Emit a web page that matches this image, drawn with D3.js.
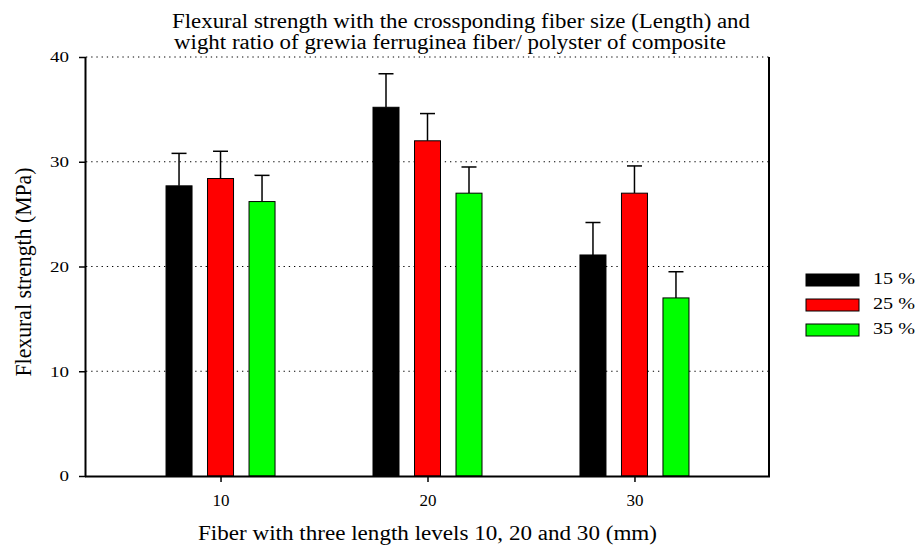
<!DOCTYPE html>
<html>
<head>
<meta charset="utf-8">
<script src="https://cdn.jsdelivr.net/npm/d3@7"></script>
<style>
  html, body { margin: 0; padding: 0; background: #fff; }
</style>
</head>
<body>
<div id="chart"></div>
<script>
// fiber length levels (mm)
const lengths = ["10", "20", "30"];
// weight ratio series
const series = ["15 %", "25 %", "35 %"];
const colors = ["#000000", "#ff0000", "#00ff00"];
// mean flexural strength (MPa) per series, per length
const meanValues = [
  [27.7, 35.2, 21.1],
  [28.4, 32.0, 27.0],
  [26.2, 27.0, 17.0]
];
// upper error (std) per series, per length
const errValues = [
  [3.1, 3.2, 3.1],
  [2.6, 2.6, 2.6],
  [2.5, 2.5, 2.5]
];
const yTicks = [0, 10, 20, 30, 40];
const titleLines = [
  "Flexural strength with the crossponding fiber size (Length) and",
  "wight ratio of grewia ferruginea fiber/ polyster of composite"
];

const serif = "'Liberation Serif', 'Times New Roman', serif";
const width = 921, height = 546;
const margin = { top: 57, right: 152, bottom: 70, left: 86 };

const svg = d3.select("#chart").append("svg")
  .attr("width", width)
  .attr("height", height);

const x = d3.scalePoint()
  .domain(lengths)
  .range([margin.left, width - margin.right])
  .padding(0.65);

const y = d3.scaleLinear()
  .domain([0, 40])
  .range([height - margin.bottom, margin.top]);

const barW = 26, barStep = 41.5;

// gridlines (dotted)
svg.append("g")
  .selectAll("line")
  .data(yTicks.filter(d => d > 0))
  .join("line")
  .attr("x1", margin.left)
  .attr("x2", width - margin.right)
  .attr("y1", d => y(d))
  .attr("y2", d => y(d))
  .attr("stroke", "#000")
  .attr("stroke-width", 1.2)
  .attr("stroke-dasharray", "1.3,3.9");

// bars + error bars
series.forEach((s, i) => {
  const off = (i - 1) * barStep;
  const g = svg.append("g");
  const rows = lengths.map((l, j) => ({ l, v: meanValues[i][j], e: errValues[i][j] }));

  g.selectAll("line.err")
    .data(rows)
    .join("line")
    .attr("class", "err")
    .attr("x1", d => x(d.l) + off)
    .attr("x2", d => x(d.l) + off)
    .attr("y1", d => y(d.v))
    .attr("y2", d => y(d.v + d.e))
    .attr("stroke", "#000")
    .attr("stroke-width", 1.5);

  g.selectAll("line.cap")
    .data(rows)
    .join("line")
    .attr("class", "cap")
    .attr("x1", d => x(d.l) + off - 7.5)
    .attr("x2", d => x(d.l) + off + 7.5)
    .attr("y1", d => y(d.v + d.e))
    .attr("y2", d => y(d.v + d.e))
    .attr("stroke", "#000")
    .attr("stroke-width", 1.5);

  g.selectAll("rect")
    .data(rows)
    .join("rect")
    .attr("x", d => x(d.l) + off - barW / 2)
    .attr("y", d => y(d.v))
    .attr("width", barW)
    .attr("height", d => y(0) - y(d.v))
    .attr("fill", colors[i])
    .attr("stroke", "#000")
    .attr("stroke-width", 1);
});

// left axis
const yAxis = svg.append("g")
  .attr("transform", `translate(${margin.left},0)`)
  .call(d3.axisLeft(y).tickValues(yTicks).tickSize(7).tickPadding(10).tickFormat(d3.format("d")));
yAxis.selectAll("text")
  .style("font-family", serif)
  .style("font-size", "15px")
  .attr("textLength", d => String(d).length * 9.5)
  .attr("lengthAdjust", "spacingAndGlyphs");
yAxis.select(".domain").attr("stroke-width", 2).attr("d", `M-0.5,${y(40)}V${y(0)}`);
yAxis.selectAll(".tick line").attr("stroke-width", 1.5);

// right axis line
svg.append("line")
  .attr("x1", width - margin.right)
  .attr("x2", width - margin.right)
  .attr("y1", y(40))
  .attr("y2", y(0))
  .attr("stroke", "#000")
  .attr("stroke-width", 2);

// bottom axis
const xAxis = svg.append("g")
  .attr("transform", `translate(0,${y(0)})`)
  .call(d3.axisBottom(x).tickSize(6).tickPadding(13));
xAxis.selectAll("text")
  .style("font-family", serif)
  .style("font-size", "16px")
  .attr("textLength", 17)
  .attr("lengthAdjust", "spacingAndGlyphs");
xAxis.select(".domain").attr("stroke-width", 2).attr("d", `M${margin.left - 1},0.5H${width - margin.right + 1}`);
xAxis.selectAll(".tick line").attr("stroke-width", 1.5);

// title
svg.append("g")
  .selectAll("text")
  .data(titleLines)
  .join("text")
  .attr("x", (d, i) => i === 0 ? 172 : 174)
  .attr("y", (d, i) => 28 + i * 21)
  .attr("textLength", (d, i) => i === 0 ? 578 : 552)
  .attr("lengthAdjust", "spacingAndGlyphs")
  .style("font-family", serif)
  .style("font-size", "20px")
  .text(d => d);

// y label
svg.append("text")
  .attr("transform", `translate(31,272) scale(1.2,1) rotate(-90)`)
  .attr("text-anchor", "middle")
  .attr("textLength", 209)
  .attr("lengthAdjust", "spacingAndGlyphs")
  .style("font-family", serif)
  .style("font-size", "19px")
  .text("Flexural strength (MPa)");

// x label
svg.append("text")
  .attr("x", (margin.left + width - margin.right) / 2)
  .attr("y", 540)
  .attr("text-anchor", "middle")
  .attr("textLength", 459)
  .attr("lengthAdjust", "spacingAndGlyphs")
  .style("font-family", serif)
  .style("font-size", "20px")
  .text("Fiber with three length levels 10, 20 and 30 (mm)");

// legend
const legend = svg.append("g")
  .selectAll("g")
  .data(series)
  .join("g")
  .attr("transform", (d, i) => `translate(806,${274 + i * 25})`);
legend.append("rect")
  .attr("width", 53)
  .attr("height", 12)
  .attr("fill", (d, i) => colors[i])
  .attr("stroke", "#000")
  .attr("stroke-width", 1);
legend.append("text")
  .attr("x", 67)
  .attr("y", 10)
  .attr("textLength", 42)
  .attr("lengthAdjust", "spacingAndGlyphs")
  .style("font-family", serif)
  .style("font-size", "16px")
  .text(d => d);
</script>
</body>
</html>
